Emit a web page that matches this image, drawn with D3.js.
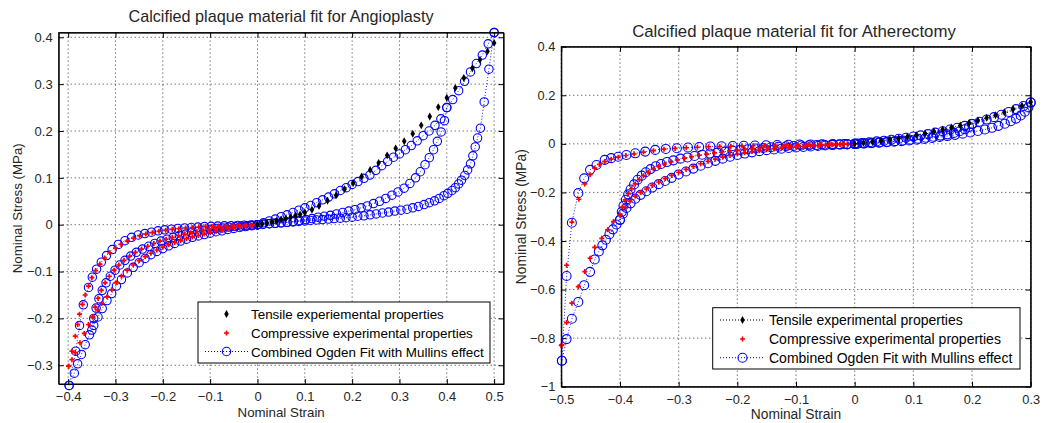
<!DOCTYPE html>
<html>
<head>
<meta charset="utf-8">
<script src="https://cdn.jsdelivr.net/npm/d3@7"></script>
<style>
  body { margin: 0; background: #fff; }
  svg { font-family: Arial, "Liberation Sans", sans-serif; }
</style>
</head>
<body>
<svg id="chart" width="1042" height="423"></svg>
<script>
// ---------- Angioplasty (left) : [strain, stress] ----------
var angTensile = [[0,0],[0.01,0.002],[0.02,0.004],[0.03,0.006],[0.04,0.008],[0.05,0.011],[0.06,0.013],[0.07,0.016],[0.08,0.019],[0.09,0.022],[0.1,0.026],[0.115,0.032],[0.13,0.04],[0.148,0.051],[0.166,0.063],[0.184,0.076],[0.202,0.089],[0.22,0.103],[0.238,0.117],[0.256,0.132],[0.274,0.148],[0.292,0.163],[0.31,0.178],[0.328,0.194],[0.346,0.212],[0.364,0.231],[0.382,0.251],[0.4,0.271],[0.418,0.292],[0.436,0.313],[0.454,0.334],[0.47,0.352],[0.486,0.37],[0.5,0.388]];

var angCompLoad = [[0,0],[-0.0125,-0.002],[-0.025,-0.003],[-0.0375,-0.005],[-0.05,-0.007],[-0.0625,-0.009],[-0.075,-0.012],[-0.0875,-0.014],[-0.1,-0.017],[-0.1125,-0.02],[-0.125,-0.023],[-0.1375,-0.026],[-0.15,-0.03],[-0.1625,-0.034],[-0.175,-0.038],[-0.1875,-0.043],[-0.2,-0.048],[-0.2125,-0.054],[-0.225,-0.061],[-0.2375,-0.068],[-0.25,-0.077],[-0.2625,-0.086],[-0.275,-0.097],[-0.2875,-0.11],[-0.298,-0.124],[-0.308,-0.139],[-0.318,-0.154],[-0.329,-0.168],[-0.338,-0.182],[-0.348,-0.197],[-0.357,-0.213],[-0.366,-0.232],[-0.375,-0.252],[-0.385,-0.273],[-0.392,-0.288],[-0.399,-0.302]];
var angCompUnloadMid = [[-0.348,-0.197],[-0.343,-0.176],[-0.337,-0.157],[-0.33,-0.14],[-0.322,-0.124],[-0.313,-0.11],[-0.303,-0.097],[-0.293,-0.086],[-0.282,-0.076],[-0.27,-0.067],[-0.258,-0.059],[-0.245,-0.052],[-0.232,-0.046],[-0.219,-0.04],[-0.206,-0.035],[-0.193,-0.031],[-0.18,-0.027],[-0.167,-0.023],[-0.154,-0.02],[-0.141,-0.017],[-0.128,-0.015],[-0.115,-0.012],[-0.102,-0.01],[-0.089,-0.008],[-0.076,-0.007],[-0.063,-0.005],[-0.05,-0.004],[-0.037,-0.003],[-0.024,-0.002],[-0.011,-0.001]];
var angCompUnloadMax = [[-0.399,-0.302],[-0.392,-0.27],[-0.385,-0.238],[-0.38,-0.213],[-0.376,-0.191],[-0.37,-0.17],[-0.364,-0.15],[-0.357,-0.131],[-0.35,-0.113],[-0.342,-0.098],[-0.333,-0.084],[-0.323,-0.071],[-0.312,-0.06],[-0.3,-0.05],[-0.288,-0.042],[-0.275,-0.035],[-0.262,-0.029],[-0.249,-0.024],[-0.236,-0.02],[-0.222,-0.017],[-0.208,-0.014],[-0.194,-0.012],[-0.18,-0.01],[-0.166,-0.0085],[-0.152,-0.007],[-0.138,-0.006],[-0.124,-0.005],[-0.11,-0.004],[-0.096,-0.0035],[-0.082,-0.003],[-0.068,-0.0025],[-0.054,-0.002],[-0.04,-0.0015],[-0.026,-0.001],[-0.012,-0.0005]];

var angFitLoad = [[0,0],[0.0125,0.004],[0.025,0.008],[0.0375,0.012],[0.05,0.017],[0.0625,0.021],[0.075,0.026],[0.0875,0.031],[0.1,0.036],[0.1125,0.041],[0.125,0.047],[0.1375,0.053],[0.15,0.059],[0.1625,0.066],[0.175,0.073],[0.1875,0.079],[0.2,0.086],[0.2125,0.092],[0.225,0.099],[0.2375,0.106],[0.25,0.116],[0.2625,0.126],[0.275,0.135],[0.2875,0.144],[0.3,0.151],[0.3125,0.16],[0.325,0.169],[0.3375,0.179],[0.35,0.19],[0.3625,0.2],[0.375,0.212],[0.3875,0.226],[0.4,0.25],[0.4125,0.267],[0.425,0.286],[0.4375,0.306],[0.45,0.326],[0.4625,0.344],[0.475,0.362],[0.4875,0.386],[0.5,0.41]];
var angFitUnload40 = [[0.4,0.25],[0.395,0.222],[0.388,0.198],[0.38,0.178],[0.372,0.16],[0.363,0.143],[0.354,0.128],[0.344,0.113],[0.334,0.1],[0.322,0.088],[0.31,0.078],[0.297,0.07],[0.284,0.063],[0.271,0.056],[0.258,0.05],[0.245,0.045],[0.232,0.04],[0.219,0.036],[0.206,0.032],[0.193,0.029],[0.18,0.026],[0.167,0.023],[0.154,0.02],[0.141,0.018],[0.128,0.016],[0.115,0.013],[0.102,0.011],[0.089,0.009],[0.076,0.007],[0.063,0.005],[0.05,0.004],[0.038,0.003],[0.025,0.002],[0.012,0.001],[0,0]];
var angFitUnload50 = [[0.5,0.41],[0.489,0.332],[0.479,0.262],[0.471,0.206],[0.465,0.185],[0.46,0.166],[0.455,0.147],[0.45,0.13],[0.444,0.117],[0.438,0.105],[0.431,0.095],[0.425,0.087],[0.418,0.079],[0.411,0.073],[0.402,0.067],[0.394,0.062],[0.384,0.056],[0.374,0.051],[0.363,0.047],[0.352,0.043],[0.34,0.039],[0.328,0.036],[0.316,0.033],[0.303,0.031],[0.29,0.029],[0.277,0.027],[0.264,0.025],[0.251,0.023],[0.238,0.021],[0.225,0.019],[0.212,0.018],[0.2,0.016],[0.187,0.015],[0.175,0.014],[0.162,0.013],[0.15,0.012],[0.137,0.011],[0.125,0.01],[0.112,0.009],[0.1,0.008],[0.087,0.007],[0.075,0.006],[0.062,0.005],[0.05,0.004],[0.037,0.003],[0.025,0.002],[0.012,0.001],[0,0]];
var angFitCompLoad = [[0,0],[-0.0125,-0.002],[-0.025,-0.004],[-0.0375,-0.006],[-0.05,-0.008],[-0.0625,-0.01],[-0.075,-0.013],[-0.0875,-0.015],[-0.1,-0.018],[-0.1125,-0.021],[-0.125,-0.024],[-0.1375,-0.027],[-0.15,-0.031],[-0.1625,-0.035],[-0.175,-0.04],[-0.1875,-0.045],[-0.2,-0.051],[-0.2125,-0.057],[-0.225,-0.064],[-0.2375,-0.072],[-0.25,-0.081],[-0.2625,-0.091],[-0.275,-0.103],[-0.2875,-0.117],[-0.298,-0.131],[-0.308,-0.147],[-0.318,-0.162],[-0.328,-0.179],[-0.337,-0.197],[-0.346,-0.215],[-0.355,-0.235],[-0.364,-0.256],[-0.372,-0.277],[-0.38,-0.297],[-0.387,-0.317],[-0.398,-0.343]];
var angFitCompUnloadMid = [[-0.35,-0.225],[-0.346,-0.2],[-0.341,-0.178],[-0.335,-0.158],[-0.328,-0.14],[-0.32,-0.124],[-0.311,-0.11],[-0.301,-0.097],[-0.291,-0.086],[-0.28,-0.076],[-0.268,-0.067],[-0.256,-0.059],[-0.243,-0.052],[-0.23,-0.046],[-0.217,-0.04],[-0.204,-0.035],[-0.191,-0.031],[-0.178,-0.027],[-0.165,-0.023],[-0.152,-0.02],[-0.139,-0.017],[-0.126,-0.015],[-0.113,-0.012],[-0.1,-0.01],[-0.087,-0.008],[-0.074,-0.007],[-0.061,-0.005],[-0.048,-0.004],[-0.035,-0.003],[-0.022,-0.002],[-0.01,-0.001],[0,0]];
var angFitCompUnloadMax = [[-0.398,-0.343],[-0.384,-0.27],[-0.376,-0.215],[-0.368,-0.171],[-0.357,-0.134],[-0.349,-0.112],[-0.34,-0.095],[-0.33,-0.08],[-0.319,-0.066],[-0.307,-0.053],[-0.294,-0.042],[-0.28,-0.034],[-0.266,-0.027],[-0.252,-0.022],[-0.238,-0.019],[-0.224,-0.016],[-0.21,-0.013],[-0.196,-0.011],[-0.182,-0.0095],[-0.168,-0.008],[-0.154,-0.007],[-0.14,-0.006],[-0.126,-0.005],[-0.112,-0.004],[-0.098,-0.0035],[-0.084,-0.003],[-0.07,-0.0025],[-0.056,-0.002],[-0.042,-0.0015],[-0.028,-0.001],[-0.014,-0.0005],[0,0]];

// ---------- Atherectomy (right) ----------
var athTensile = [[0,0],[0.015,0.004],[0.03,0.009],[0.045,0.013],[0.06,0.018],[0.075,0.023],[0.09,0.029],[0.105,0.036],[0.12,0.043],[0.135,0.051],[0.15,0.059],[0.165,0.067],[0.18,0.076],[0.195,0.086],[0.21,0.096],[0.225,0.107],[0.24,0.118],[0.255,0.13],[0.27,0.143],[0.285,0.157],[0.3,0.172]];

var athCompLoad = [[0,0],[-0.0125,-0.001],[-0.025,-0.003],[-0.0375,-0.004],[-0.05,-0.006],[-0.0625,-0.008],[-0.075,-0.009],[-0.0875,-0.011],[-0.1,-0.013],[-0.1125,-0.016],[-0.125,-0.018],[-0.1375,-0.021],[-0.15,-0.024],[-0.1625,-0.028],[-0.175,-0.032],[-0.1875,-0.037],[-0.2,-0.042],[-0.2125,-0.048],[-0.225,-0.055],[-0.2375,-0.063],[-0.25,-0.072],[-0.2625,-0.082],[-0.275,-0.093],[-0.2875,-0.105],[-0.3,-0.117],[-0.312,-0.13],[-0.323,-0.143],[-0.334,-0.157],[-0.345,-0.171],[-0.355,-0.186],[-0.365,-0.2],[-0.374,-0.215],[-0.383,-0.236],[-0.391,-0.262],[-0.4,-0.293],[-0.411,-0.32],[-0.421,-0.354],[-0.431,-0.389],[-0.443,-0.426],[-0.451,-0.471],[-0.46,-0.526],[-0.471,-0.588],[-0.482,-0.656],[-0.491,-0.736],[-0.499,-0.828]];
var athCompUnloadMid = [[-0.4,-0.293],[-0.396,-0.26],[-0.391,-0.231],[-0.386,-0.205],[-0.38,-0.185],[-0.374,-0.165],[-0.367,-0.147],[-0.36,-0.131],[-0.352,-0.117],[-0.343,-0.104],[-0.334,-0.093],[-0.324,-0.083],[-0.313,-0.074],[-0.302,-0.066],[-0.29,-0.059],[-0.278,-0.053],[-0.265,-0.047],[-0.252,-0.042],[-0.239,-0.037],[-0.226,-0.033],[-0.213,-0.029],[-0.2,-0.026],[-0.187,-0.023],[-0.174,-0.02],[-0.161,-0.017],[-0.148,-0.015],[-0.135,-0.013],[-0.122,-0.011],[-0.109,-0.009],[-0.096,-0.008],[-0.083,-0.006],[-0.07,-0.005],[-0.057,-0.004],[-0.044,-0.003],[-0.031,-0.002],[-0.018,-0.001]];
var athCompUnloadMax = [[-0.5,-0.83],[-0.491,-0.5],[-0.482,-0.322],[-0.47,-0.228],[-0.46,-0.165],[-0.451,-0.127],[-0.443,-0.1],[-0.435,-0.085],[-0.426,-0.073],[-0.415,-0.063],[-0.403,-0.055],[-0.39,-0.048],[-0.376,-0.041],[-0.36,-0.034],[-0.343,-0.028],[-0.325,-0.022],[-0.306,-0.019],[-0.287,-0.016],[-0.268,-0.014],[-0.249,-0.012],[-0.23,-0.011],[-0.211,-0.01],[-0.192,-0.009],[-0.173,-0.008],[-0.154,-0.007],[-0.135,-0.006],[-0.116,-0.005],[-0.097,-0.004],[-0.078,-0.003],[-0.059,-0.002],[-0.04,-0.0015],[-0.021,-0.001]];

var athFitLoad = [[0,0],[0.0125,0.003],[0.025,0.006],[0.0375,0.01],[0.05,0.013],[0.0625,0.017],[0.075,0.021],[0.0875,0.025],[0.1,0.03],[0.1125,0.035],[0.125,0.04],[0.1375,0.046],[0.15,0.052],[0.1625,0.059],[0.175,0.066],[0.1875,0.074],[0.2,0.082],[0.2125,0.091],[0.225,0.1],[0.2375,0.11],[0.25,0.12],[0.2625,0.131],[0.275,0.143],[0.2875,0.156],[0.3,0.17]];
var athFitUnload20 = [[0.2,0.082],[0.195,0.07],[0.188,0.06],[0.179,0.052],[0.169,0.045],[0.158,0.039],[0.146,0.034],[0.134,0.029],[0.121,0.025],[0.108,0.021],[0.095,0.017],[0.082,0.014],[0.069,0.011],[0.056,0.008],[0.043,0.006],[0.03,0.004],[0.017,0.002],[0.005,0.001]];
var athFitUnload30 = [[0.3,0.17],[0.296,0.15],[0.29,0.132],[0.283,0.117],[0.275,0.104],[0.266,0.093],[0.256,0.083],[0.245,0.074],[0.234,0.066],[0.222,0.059],[0.21,0.053],[0.197,0.047],[0.184,0.042],[0.171,0.037],[0.158,0.032],[0.145,0.028],[0.132,0.024],[0.119,0.02],[0.106,0.017],[0.093,0.014],[0.08,0.011],[0.067,0.009],[0.054,0.007],[0.041,0.005],[0.028,0.003],[0.015,0.002],[0.003,0]];
var athFitCompLoad = [[0,0],[-0.0125,-0.002],[-0.025,-0.003],[-0.0375,-0.005],[-0.05,-0.007],[-0.0625,-0.009],[-0.075,-0.011],[-0.0875,-0.013],[-0.1,-0.015],[-0.1125,-0.017],[-0.125,-0.02],[-0.1375,-0.023],[-0.15,-0.026],[-0.1625,-0.03],[-0.175,-0.035],[-0.1875,-0.04],[-0.2,-0.046],[-0.2125,-0.053],[-0.225,-0.061],[-0.2375,-0.07],[-0.25,-0.08],[-0.2625,-0.09],[-0.275,-0.102],[-0.2875,-0.114],[-0.3,-0.126],[-0.312,-0.14],[-0.323,-0.153],[-0.334,-0.166],[-0.345,-0.18],[-0.355,-0.195],[-0.365,-0.21],[-0.374,-0.226],[-0.382,-0.245],[-0.389,-0.264],[-0.395,-0.288],[-0.4,-0.313],[-0.406,-0.332],[-0.412,-0.352],[-0.418,-0.372],[-0.424,-0.395],[-0.43,-0.418],[-0.436,-0.443],[-0.443,-0.476],[-0.451,-0.527],[-0.461,-0.582],[-0.471,-0.651],[-0.482,-0.72],[-0.491,-0.804],[-0.499,-0.893]];
var athFitCompUnloadMid = [[-0.4,-0.313],[-0.397,-0.28],[-0.394,-0.255],[-0.39,-0.23],[-0.386,-0.208],[-0.382,-0.188],[-0.376,-0.167],[-0.37,-0.148],[-0.363,-0.131],[-0.356,-0.117],[-0.348,-0.104],[-0.339,-0.092],[-0.33,-0.083],[-0.32,-0.075],[-0.309,-0.068],[-0.297,-0.061],[-0.285,-0.056],[-0.273,-0.05],[-0.26,-0.045],[-0.247,-0.04],[-0.234,-0.036],[-0.221,-0.032],[-0.208,-0.028],[-0.195,-0.025],[-0.182,-0.022],[-0.169,-0.019],[-0.156,-0.017],[-0.143,-0.014],[-0.13,-0.012],[-0.117,-0.01],[-0.104,-0.009],[-0.091,-0.007],[-0.078,-0.006],[-0.065,-0.005],[-0.052,-0.004],[-0.039,-0.003],[-0.026,-0.002],[-0.013,-0.001],[0,0]];
var athFitCompUnloadMax = [[-0.499,-0.893],[-0.491,-0.544],[-0.482,-0.325],[-0.471,-0.203],[-0.461,-0.142],[-0.451,-0.107],[-0.44,-0.087],[-0.426,-0.066],[-0.415,-0.059],[-0.403,-0.053],[-0.389,-0.046],[-0.374,-0.039],[-0.357,-0.032],[-0.34,-0.025],[-0.322,-0.021],[-0.303,-0.018],[-0.284,-0.015],[-0.265,-0.013],[-0.246,-0.011],[-0.227,-0.01],[-0.208,-0.009],[-0.189,-0.008],[-0.17,-0.007],[-0.151,-0.006],[-0.132,-0.005],[-0.113,-0.004],[-0.094,-0.003],[-0.075,-0.0025],[-0.056,-0.002],[-0.037,-0.001],[-0.018,-0.0005],[0,0]];

// ticks
var angXTicks = [-0.4,-0.3,-0.2,-0.1,0,0.1,0.2,0.3,0.4,0.5];
var angYTicks = [-0.3,-0.2,-0.1,0,0.1,0.2,0.3,0.4];
var athXTicks = [-0.5,-0.4,-0.3,-0.2,-0.1,0,0.1,0.2,0.3];
var athYTicks = [-1,-0.8,-0.6,-0.4,-0.2,0,0.2,0.4];

var svg = d3.select("#chart");
var BLUE = "#0000ff", RED = "#ff0000", TXT = "#262626";

function drawPanel(p) {
  var x = d3.scaleLinear().domain(p.xDomain).range([p.left, p.right]);
  var y = d3.scaleLinear().domain(p.yDomain).range([p.bottom, p.top]);
  var g = svg.append("g");

  // grid
  g.selectAll(".gx").data(p.xTicks).enter().append("line")
    .attr("x1", d => x(d)).attr("x2", d => x(d))
    .attr("y1", p.top).attr("y2", p.bottom)
    .attr("stroke", "#000").attr("stroke-width", 0.8).attr("stroke-dasharray", "1,3");
  g.selectAll(".gy").data(p.yTicks).enter().append("line")
    .attr("y1", d => y(d)).attr("y2", d => y(d))
    .attr("x1", p.left).attr("x2", p.right)
    .attr("stroke", "#000").attr("stroke-width", 0.8).attr("stroke-dasharray", "1,3");

  // axes, ticks pointing inward on all four sides
  var fmt = d => d === 0 ? "0" : d3.format("")(d);
  var ax = [
    [d3.axisBottom(x).tickValues(p.xTicks).tickSizeInner(-5).tickSizeOuter(0).tickPadding(8).tickFormat(fmt), p.bottom, "x"],
    [d3.axisTop(x).tickValues(p.xTicks).tickSizeInner(-5).tickSizeOuter(0).tickFormat(""), p.top, "x"],
    [d3.axisLeft(y).tickValues(p.yTicks).tickSizeInner(-5).tickSizeOuter(0).tickPadding(6).tickFormat(fmt), p.left, "y"],
    [d3.axisRight(y).tickValues(p.yTicks).tickSizeInner(-5).tickSizeOuter(0).tickFormat(""), p.right, "y"]
  ];
  ax.forEach(function (a) {
    var t = a[2] === "x" ? `translate(0,${a[1]})` : `translate(${a[1]},0)`;
    var ag = g.append("g").attr("transform", t).call(a[0]);
    ag.select(".domain").attr("stroke", "#000");
    ag.selectAll("text").attr("font-size", p.tickFont).attr("fill", TXT)
      .attr("font-family", "Arial, 'Liberation Sans', sans-serif");
  });

  // fit curves (blue circles joined by a dotted line)
  var line = d3.line().x(d => x(d[0])).y(d => y(d[1]));
  p.fit.forEach(function (s) {
    g.append("path").attr("d", line(s)).attr("fill", "none")
      .attr("stroke", BLUE).attr("stroke-width", 0.9).attr("stroke-dasharray", "1,2");
    g.selectAll(null).data(s).enter().append("circle")
      .attr("cx", d => x(d[0])).attr("cy", d => y(d[1])).attr("r", p.r)
      .attr("fill", "none").attr("stroke", BLUE).attr("stroke-width", 1.1);
  });

  // compressive experimental (red)
  var cross = d3.symbol().type(d3.symbolCross).size(14);
  p.comp.forEach(function (s) {
    g.selectAll(null).data(s).enter().append("path")
      .attr("d", cross).attr("fill", RED)
      .attr("transform", d => `translate(${x(d[0])},${y(d[1])})`);
  });

  // tensile experimental (black)
  if (p.tensileLine) {
    g.append("path").attr("d", line(p.tensile)).attr("fill", "none")
      .attr("stroke", "#000").attr("stroke-width", 0.8).attr("stroke-dasharray", "1,2");
  }
  var dia = d3.symbol().type(d3.symbolDiamond).size(18);
  g.selectAll(null).data(p.tensile).enter().append("path")
    .attr("d", dia).attr("fill", "#000")
    .attr("transform", d => `translate(${x(d[0])},${y(d[1])})`);

  // box
  g.append("rect").attr("x", p.left).attr("y", p.top)
    .attr("width", p.right - p.left).attr("height", p.bottom - p.top)
    .attr("fill", "none").attr("stroke", "#000").attr("stroke-width", 1);

  // titles and axis labels
  var cx = (p.left + p.right) / 2;
  g.append("text").attr("x", p.titleX).attr("y", p.titleY).attr("text-anchor", "middle")
    .attr("font-size", p.titleFont).attr("fill", TXT).text(p.title);
  g.append("text").attr("x", cx).attr("y", p.xLabelY).attr("text-anchor", "middle")
    .attr("font-size", p.labelFont).attr("fill", TXT).text("Nominal Strain");
  g.append("text").attr("transform", `translate(${p.yLabelX},${(p.top + p.bottom) / 2}) rotate(-90)`)
    .attr("text-anchor", "middle").attr("font-size", p.labelFont).attr("fill", TXT)
    .text("Nominal Stress (MPa)");

  // legend
  var L = p.legend;
  var lg = g.append("g");
  lg.append("rect").attr("x", L.x).attr("y", L.y).attr("width", L.w).attr("height", L.h)
    .attr("fill", "#fff").attr("stroke", "#000").attr("stroke-width", 1);
  var rows = [
    { label: p.tensileLabel, kind: "black", line: p.tensileLine },
    { label: "Compressive experimental properties", kind: "red", line: false },
    { label: "Combined Ogden Fit with Mullins effect", kind: "blue", line: true }
  ];
  rows.forEach(function (r, i) {
    var ry = L.y + L.rowY[i];
    if (r.line) {
      lg.append("line").attr("x1", L.lineX0).attr("x2", L.lineX1).attr("y1", ry).attr("y2", ry)
        .attr("stroke", r.kind === "blue" ? BLUE : "#000").attr("stroke-width", 1)
        .attr("stroke-dasharray", "1,2");
    }
    var mx = (L.lineX0 + L.lineX1) / 2;
    if (r.kind === "black") {
      lg.append("path").attr("d", dia).attr("fill", "#000").attr("transform", `translate(${mx},${ry})`);
    } else if (r.kind === "red") {
      lg.append("path").attr("d", cross).attr("fill", RED).attr("transform", `translate(${mx},${ry})`);
    } else {
      lg.append("circle").attr("cx", mx).attr("cy", ry).attr("r", p.r)
        .attr("fill", "none").attr("stroke", BLUE).attr("stroke-width", 1.1);
    }
    lg.append("text").attr("x", L.textX).attr("y", ry + 5).attr("font-size", L.font)
      .attr("fill", "#000").text(r.label);
  });
}

drawPanel({
  left: 58.7, right: 503.6, top: 32.6, bottom: 384,
  xDomain: [-0.42, 0.52], yDomain: [-0.34, 0.41],
  xTicks: angXTicks, yTicks: angYTicks, r: 4.2,
  tickFont: 13, labelFont: 13.3, titleFont: 16.2,
  title: "Calcified plaque material fit for Angioplasty", titleX: 281, titleY: 22,
  xLabelY: 417, yLabelX: 22,
  tensile: angTensile, tensileLine: false, tensileLabel: "Tensile experiemental properties",
  comp: [angCompLoad, angCompUnloadMid, angCompUnloadMax],
  fit: [angFitLoad, angFitUnload40, angFitUnload50, angFitCompLoad, angFitCompUnloadMid, angFitCompUnloadMax],
  legend: { x: 198, y: 302, w: 292, h: 61, rowY: [12, 31, 49.5], lineX0: 205, lineX1: 248, textX: 251, font: 13.4 }
});

drawPanel({
  left: 561.3, right: 1030.7, top: 46.7, bottom: 386.7,
  xDomain: [-0.5, 0.3], yDomain: [-1, 0.4],
  xTicks: athXTicks, yTicks: athYTicks, r: 4.5,
  tickFont: 12.8, labelFont: 13.8, titleFont: 16.8,
  title: "Calcified plaque material fit for Atherectomy", titleX: 794, titleY: 37,
  xLabelY: 419, yLabelX: 526,
  tensile: athTensile, tensileLine: true, tensileLabel: "Tensile experimental properties",
  comp: [athCompLoad, athCompUnloadMid, athCompUnloadMax],
  fit: [athFitLoad, athFitUnload20, athFitUnload30, athFitCompLoad, athFitCompUnloadMid, athFitCompUnloadMax],
  legend: { x: 712.7, y: 307.7, w: 307.3, h: 61.3, rowY: [12.3, 31.3, 50], lineX0: 720, lineX1: 765, textX: 769, font: 14 }
});
</script>
</body>
</html>
